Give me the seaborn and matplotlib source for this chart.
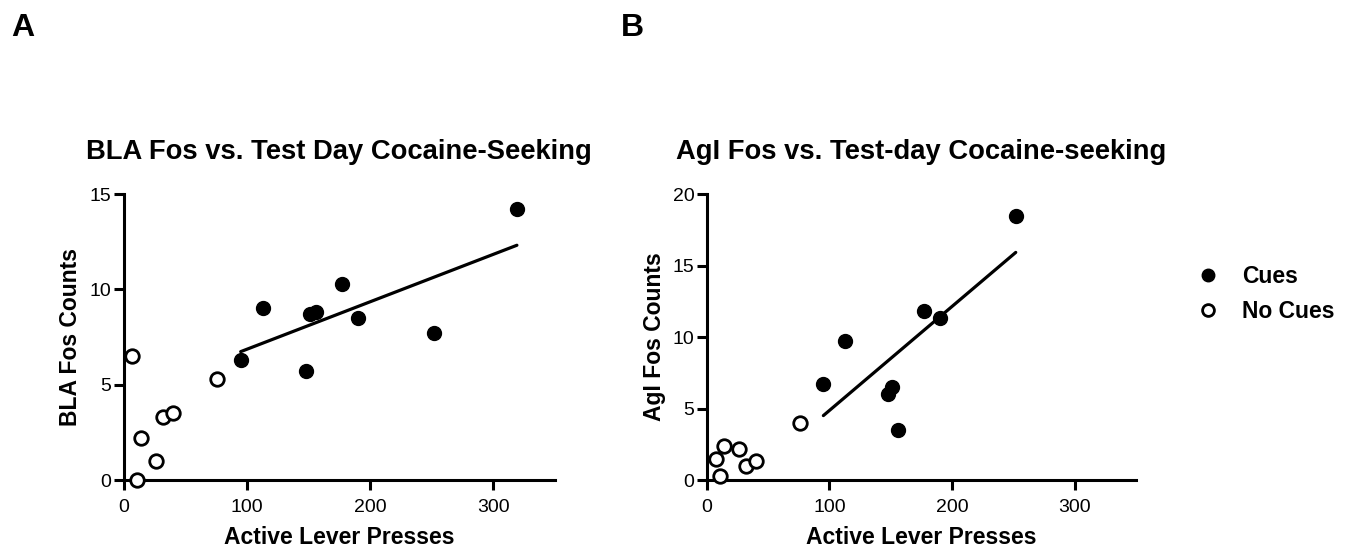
import numpy as np
import pandas as pd
import seaborn as sns
from matplotlib import pyplot as plt
from matplotlib.lines import Line2D

# active lever presses (same rats in both panels)
presses_cues = [95, 113, 148, 151, 156, 177, 190, 252, 319]
presses_nocues = [7, 11, 14, 26, 32, 40, 76]

# panel A: BLA Fos counts
bla_cues = [6.3, 9.0, 5.7, 8.7, 8.8, 10.3, 8.5, 7.7, 14.2]
bla_nocues = [6.5, 0.0, 2.2, 1.0, 3.3, 3.5, 5.3]

# panel B: AgI Fos counts (no AgI value for the rat at 319 presses)
agi_cues = [6.7, 9.7, 6.0, 6.5, 3.5, 11.8, 11.3, 18.5]
agi_nocues = [1.5, 0.3, 2.4, 2.2, 1.0, 1.3, 4.0]

xticks = [0, 100, 200, 300]
bla_yticks = [0, 5, 10, 15]
agi_yticks = [0, 5, 10, 15, 20]

sns.set_style("ticks")
plt.rcParams["font.family"] = ["Liberation Sans", "DejaVu Sans"]
for k in ["text.color", "axes.labelcolor", "xtick.color", "ytick.color", "axes.edgecolor"]:
    plt.rcParams[k] = "black"

fig = plt.figure(figsize=(13.53, 5.53), dpi=100)
ax1 = fig.add_axes((0.0913, 0.132, 0.319, 0.517))
ax2 = fig.add_axes((0.5225, 0.132, 0.317, 0.517))


def panel(ax, x_c, y_c, x_n, y_n, ymax, yticks, title, ylabel):
    cues = pd.DataFrame({"presses": x_c, "fos": y_c})
    nocues = pd.DataFrame({"presses": x_n, "fos": y_n})
    sns.regplot(data=cues, x="presses", y="fos", scatter=False, ci=None,
                color="black", line_kws={"linewidth": 2.3}, ax=ax)
    sns.scatterplot(data=cues, x="presses", y="fos", color="black", s=100,
                    edgecolor="black", linewidth=1, ax=ax, clip_on=False, zorder=3)
    sns.scatterplot(data=nocues, x="presses", y="fos", facecolor="white", s=95,
                    edgecolor="black", linewidth=2, ax=ax, clip_on=False, zorder=3)
    ax.set_xlim(0, 350)
    ax.set_ylim(0, ymax)
    ax.set_xticks(xticks)
    ax.set_yticks(yticks)
    sns.despine(ax=ax)
    for sp in ["left", "bottom"]:
        ax.spines[sp].set_linewidth(2.2)
    ax.tick_params(bottom=True, left=True, width=2.2, length=7, labelsize=14,
                   color="black", direction="out")
    ax.tick_params(axis="x", pad=7)
    ax.tick_params(axis="y", pad=2)
    ax.set_xlabel("Active Lever Presses", fontsize=16.5, fontweight="bold", labelpad=7)
    ax.set_ylabel(ylabel, fontsize=16.5, fontweight="bold", labelpad=5)
    ax.set_title(title, fontsize=19.7, fontweight="bold", pad=25)


panel(ax1, presses_cues, bla_cues, presses_nocues, bla_nocues, 15, bla_yticks,
      "BLA Fos vs. Test Day Cocaine-Seeking", "BLA Fos Counts")
panel(ax2, presses_cues[:len(agi_cues)], agi_cues, presses_nocues, agi_nocues, 20, agi_yticks,
      "AgI Fos vs. Test-day Cocaine-seeking", "AgI Fos Counts")

fig.text(0.008, 0.95, "A", fontsize=23, fontweight="bold", va="center")
fig.text(0.459, 0.95, "B", fontsize=23, fontweight="bold", va="center")

handles = [
    Line2D([], [], marker="o", linestyle="none", markersize=9, color="black"),
    Line2D([], [], marker="o", linestyle="none", markersize=8.5, markerfacecolor="white",
           markeredgecolor="black", markeredgewidth=2),
]
fig.legend(handles, ["Cues", "No Cues"], loc="center left", bbox_to_anchor=(0.869, 0.468),
           frameon=False, prop={"size": 16.5, "weight": "bold"}, handlelength=1,
           handletextpad=1.0, labelspacing=0.55)

fig.savefig("out.png", dpi=100)
